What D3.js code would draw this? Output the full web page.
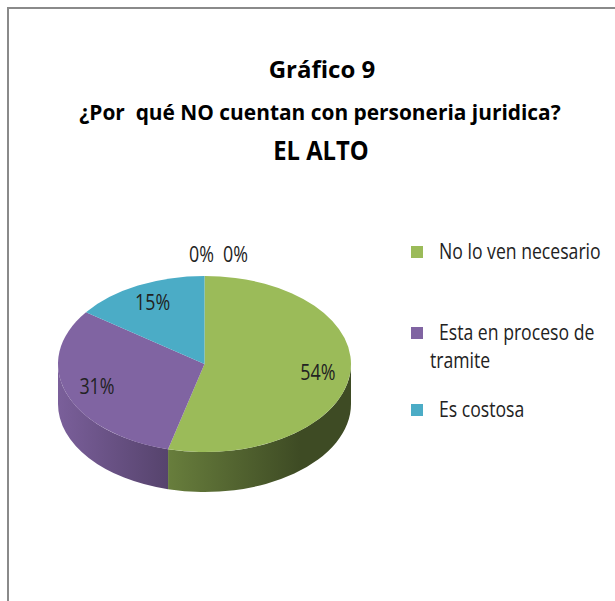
<!DOCTYPE html>
<html>
<head>
<meta charset="utf-8">
<script src="https://cdn.jsdelivr.net/npm/d3@7"></script>
<style>
  body { margin: 0; background: #fff; }
  svg { display: block; }
  text { white-space: pre; }
</style>
</head>
<body>
<div id="chart"></div>
<script>
const W = 615, H = 601;

// Data
const categories = ["No lo ven necesario", "Esta en proceso de tramite", "Es costosa", "", ""];
const values = [54, 31, 15, 0, 0];
const colors = ["#9bbb59", "#8064a2", "#4bacc6", "#f79646", "#c0504d"];
const titleLines = ["Gráfico 9", "¿Por  qué NO cuentan con personeria juridica?", "EL ALTO"];

// Layout
const font = "'Open Sans', 'Noto Sans', sans-serif";
const pie3d = { cx: 204.5, cy: 364, rx: 146.5, ry: 88, depth: 40 };
const labelFrac = 0.78;
const legendX = 411, legendTextX = 439, legendWrapX = 430;
const legendBaselines = [259, 340, 417];
const legendLineH = 28;

const svg = d3.select("#chart")
  .append("svg")
  .attr("width", W)
  .attr("height", H)
  .style("font-family", font);

// chart frame (only top and left edges inside the crop)
svg.append("rect")
  .attr("x", 8).attr("y", 8)
  .attr("width", 700).attr("height", 700)
  .attr("fill", "none")
  .attr("stroke", "#8a8a8a")
  .attr("stroke-width", 2);

// text squeezed horizontally, Calibri-like
function addText(parent, str, x, y, size, weight, sx, anchor) {
  return parent.append("text")
    .attr("transform", `translate(${x},${y}) scale(${sx},1)`)
    .attr("text-anchor", anchor || "start")
    .attr("font-size", size)
    .attr("font-weight", weight || "normal")
    .attr("fill", "#000")
    .text(str);
}

// Title
const titleG = svg.append("g");
addText(titleG, titleLines[0], 322, 78, 24, "bold", 1.0, "middle");
addText(titleG, titleLines[1], 320, 120, 22, "bold", 0.95, "middle");
addText(titleG, titleLines[2], 321, 160, 27, "bold", 0.88, "middle");

// Pie
const arcs = d3.pie().sort(null).startAngle(0).endAngle(2 * Math.PI)(values);

function pt(a, dy) {
  return [pie3d.cx + pie3d.rx * Math.sin(a), pie3d.cy - pie3d.ry * Math.cos(a) + (dy || 0)];
}

const defs = svg.append("defs");
function shade(c, f) {
  const r = d3.rgb(c);
  return d3.rgb(r.r * f, r.g * f, r.b * f).formatHex();
}

const sideShades = [[0, 0.95], [0.365, 0.68], [0.826, 0.4], [1, 0.4]];
colors.forEach((c, i) => {
  const grad = defs.append("linearGradient")
    .attr("id", "side" + i)
    .attr("gradientUnits", "userSpaceOnUse")
    .attr("x1", pie3d.cx - pie3d.rx).attr("y1", 0)
    .attr("x2", pie3d.cx + pie3d.rx).attr("y2", 0);
  grad.selectAll("stop")
    .data(sideShades)
    .join("stop")
    .attr("offset", d => d[0])
    .attr("stop-color", d => shade(c, d[1]));
});

const pieG = svg.append("g");

// front side walls
const walls = arcs
  .map((d, i) => ({ i, v0: Math.max(d.startAngle, Math.PI / 2), v1: Math.min(d.endAngle, 1.5 * Math.PI) }))
  .filter(d => d.v1 > d.v0);

pieG.selectAll(".wall")
  .data(walls)
  .join("path")
  .attr("class", "wall")
  .attr("fill", d => `url(#side${d.i})`)
  .attr("d", d => {
    const a = pt(d.v0), b = pt(d.v1), b2 = pt(d.v1, pie3d.depth), a2 = pt(d.v0, pie3d.depth);
    return `M${a}A${pie3d.rx},${pie3d.ry} 0 0 1 ${b}L${b2}A${pie3d.rx},${pie3d.ry} 0 0 0 ${a2}Z`;
  });

// top faces
pieG.selectAll(".top")
  .data(arcs.filter(d => d.value > 0))
  .join("path")
  .attr("class", "top")
  .attr("fill", d => colors[d.index])
  .attr("d", d => {
    const a = pt(d.startAngle), b = pt(d.endAngle);
    const large = d.endAngle - d.startAngle > Math.PI ? 1 : 0;
    return `M${pie3d.cx},${pie3d.cy}L${a}A${pie3d.rx},${pie3d.ry} 0 ${large} 1 ${b}Z`;
  });

// data labels
const fmt = d3.format(".0%");
const total = d3.sum(values);
const labelG = svg.append("g");
const labelSize = 21, labelSx = 0.85;

arcs.filter(d => d.value > 0).forEach(d => {
  const mid = (d.startAngle + d.endAngle) / 2;
  const x = pie3d.cx + labelFrac * pie3d.rx * Math.sin(mid);
  const y = pie3d.cy - labelFrac * pie3d.ry * Math.cos(mid);
  addText(labelG, fmt(d.value / total), x, y + 7, labelSize, "normal", labelSx, "middle").attr("fill", "#222");
});

// zero slices: labels outside, side by side
let zx = null;
arcs.filter(d => d.value === 0).forEach(d => {
  const p = pt(d.startAngle, -14);
  const t = addText(labelG, fmt(0), 0, p[1], labelSize, "normal", labelSx, "middle").attr("fill", "#222");
  const w = t.node().getComputedTextLength() * labelSx;
  if (zx === null) zx = p[0] - 3; else zx += w + 9;
  t.attr("transform", `translate(${zx},${p[1]}) scale(${labelSx},1)`);
});

// Legend
const legendSize = 21, legendSx = 0.84, wrapWidth = 175;
const legendG = svg.append("g");
const legendItems = categories.map((c, i) => ({ c, i })).filter(d => d.c !== "");

legendItems.forEach((d, k) => {
  const y = legendBaselines[k];
  legendG.append("rect")
    .attr("x", legendX).attr("y", y - 13)
    .attr("width", 12).attr("height", 12)
    .attr("fill", colors[d.i]);

  // simple word wrap
  const words = d.c.split(" ");
  let line = [], lineNo = 0;
  let t = addText(legendG, "", legendTextX, y, legendSize, "normal", legendSx);
  words.forEach(wd => {
    line.push(wd);
    t.text(line.join(" "));
    if (t.node().getComputedTextLength() * legendSx > wrapWidth && line.length > 1) {
      line.pop();
      t.text(line.join(" "));
      line = [wd];
      lineNo++;
      t = addText(legendG, wd, legendWrapX, y + lineNo * legendLineH, legendSize, "normal", legendSx);
    }
  });
  legendG.selectAll("text").attr("fill", "#222");
});
</script>
</body>
</html>
